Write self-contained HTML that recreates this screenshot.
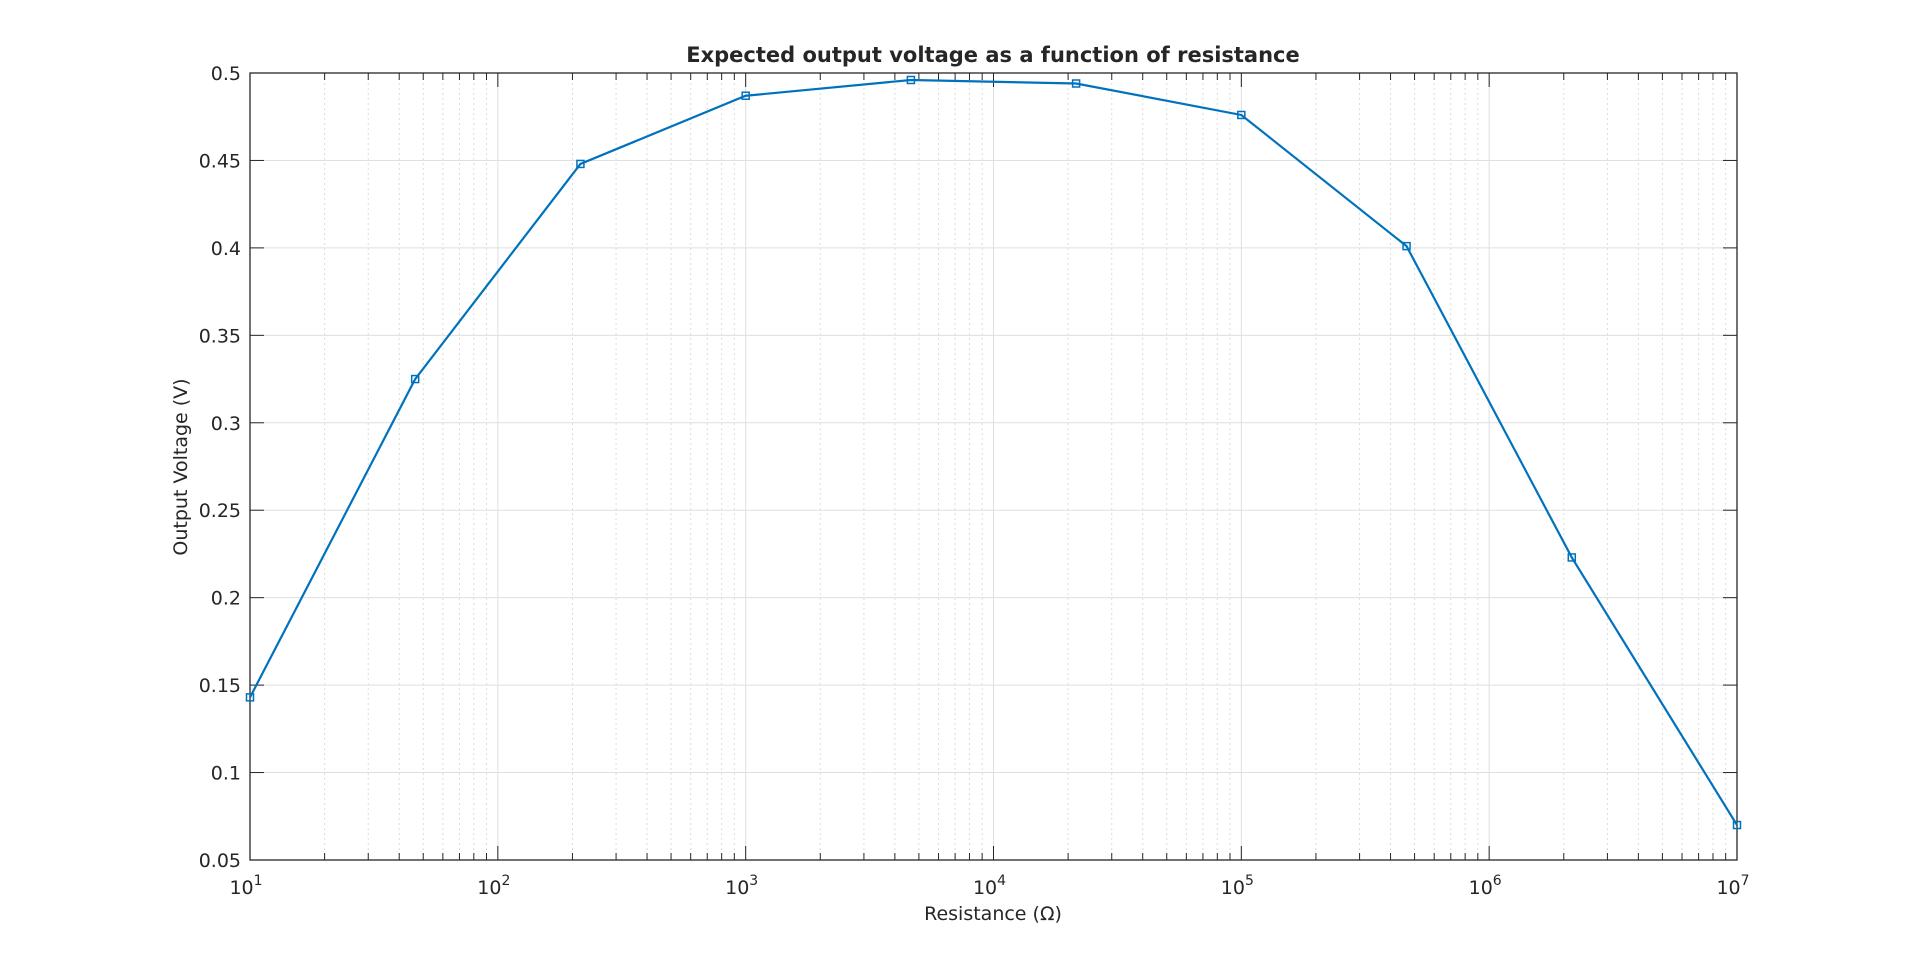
<!DOCTYPE html>
<html><head><meta charset="utf-8"><style>
html,body{margin:0;padding:0;background:#fff;}
svg text{font-family:"DejaVu Sans","Liberation Sans",sans-serif;fill:#262626;}
</style></head><body>
<svg id="chart" width="1920" height="967" viewBox="0 0 1920 967">
<rect width="1920" height="967" fill="#fff"/>
<g id="grid"></g><g id="axes"></g><g id="series"></g>
<text x="993" y="62" text-anchor="middle" font-size="21" font-weight="bold">Expected output voltage as a function of resistance</text>
<text x="993" y="920" text-anchor="middle" font-size="19">Resistance (Ω)</text>
<text transform="translate(187,467) rotate(-90)" text-anchor="middle" font-size="19">Output Voltage (V)</text>
</svg>
<script>
const resistances=[10,46.4,215.4,1000,4642,21544,100000,464159,2154435,10000000];
const voltages=[0.143,0.325,0.448,0.487,0.496,0.494,0.476,0.401,0.223,0.070];
const yTicks=[0.05,0.1,0.15,0.2,0.25,0.3,0.35,0.4,0.45,0.5];
const xDecades=[1,2,3,4,5,6,7];
const L=250,R=1737,T=73,B=860;
const NS="http://www.w3.org/2000/svg";
function xs(v){return L+(Math.log10(v)-1)/6*(R-L);}
function ys(v){return B-(v-0.05)/0.45*(B-T);}
function mk(t,a,p){const e=document.createElementNS(NS,t);for(const k in a)e.setAttribute(k,a[k]);p.appendChild(e);return e;}
const grid=document.getElementById('grid'),axes=document.getElementById('axes'),ser=document.getElementById('series');
// minor grid
for(let d=1;d<7;d++)for(let m=2;m<=9;m++){const x=xs(m*Math.pow(10,d));
const g=mk('line',{x1:x,x2:x,y1:T,y2:B,stroke:'#dcdcdc','stroke-dasharray':'2,3','stroke-width':1},grid);


mk('line',{x1:x,x2:x,y1:B,y2:B-7,stroke:'#262626'},axes);mk('line',{x1:x,x2:x,y1:T,y2:T+7,stroke:'#262626'},axes);}
xDecades.forEach(d=>{const x=xs(Math.pow(10,d));
const g=mk('line',{x1:x,x2:x,y1:T,y2:B,stroke:'#dfdfdf'},grid);


mk('line',{x1:x,x2:x,y1:B,y2:B-14,stroke:'#262626'},axes);mk('line',{x1:x,x2:x,y1:T,y2:T+14,stroke:'#262626'},axes);
const t=mk('text',{x:x-4,y:B+34,'text-anchor':'middle','font-size':19},axes);
t.textContent='10';
const s=mk('tspan',{dy:-9,'font-size':14},t);s.textContent=String(d);

});
yTicks.forEach(v=>{const y=ys(v);
const g=mk('line',{x1:L,x2:R,y1:y,y2:y,stroke:'#dfdfdf'},grid);


mk('line',{x1:L,x2:L+14,y1:y,y2:y,stroke:'#262626'},axes);mk('line',{x1:R,x2:R-14,y1:y,y2:y,stroke:'#262626'},axes);
const t=mk('text',{x:L-9,y:y+7,'text-anchor':'end','font-size':19},axes);t.textContent=String(v);

});
const box=mk('rect',{x:L,y:T,width:R-L,height:B-T,fill:'none',stroke:'#262626','stroke-width':1.3},axes);


const pts=resistances.map((r,i)=>xs(r)+','+ys(voltages[i])).join(' ');
const pl=mk('polyline',{points:pts,fill:'none',stroke:'#0072bd','stroke-width':2.2},ser);


resistances.forEach((r,i)=>{const m=mk('rect',{x:xs(r)-3.5,y:ys(voltages[i])-3.5,width:7,height:7,fill:'none',stroke:'#0072bd','stroke-width':1.5},ser);

});
</script>
</body></html>
